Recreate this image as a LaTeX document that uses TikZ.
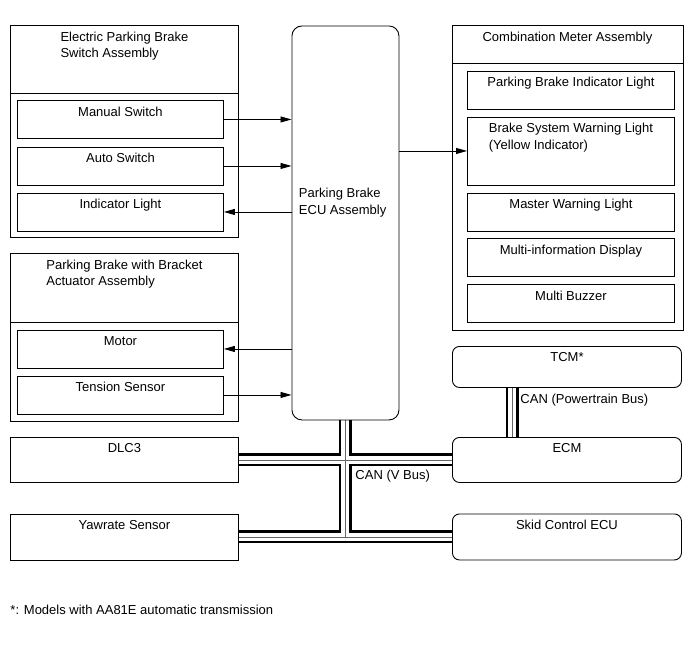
\documentclass[tikz,border=0pt]{standalone}
\usepackage{fontspec}
\setmainfont{Liberation Sans}
\usetikzlibrary{positioning,arrows.meta,backgrounds}

\begin{document}
\begin{tikzpicture}[
  x=1pt, y=-1pt,
  font=\fontsize{13}{16.5}\selectfont,
  >={Triangle[length=11pt,width=6pt]},
  line width=0.9pt,
  box/.style={draw, anchor=north west, inner sep=0pt},
  rbox/.style={box, rounded corners=7pt},
  wh/.style 2 args={minimum width=#1pt, minimum height=#2pt},
  ttl/.style={label={[anchor=north, inner sep=0pt, align=left, yshift=-6.3pt]north:#1}},
  busout/.style={line width=13pt},
  busin/.style={line width=8pt, white},
  busmid/.style={line width=0.6pt, black!60},
]
\useasboundingbox (0,0) rectangle (690,659);
% switch assembly
\node[box, wh={228}{212}, ttl={Electric Parking Brake\\Switch Assembly}] (epb) at (10,25) {};
\node[box, wh={206}{38}, ttl={Manual Switch}]   (mansw) at (17,100) {};
\node[box, wh={206}{38}, ttl={Auto Switch}]     (autosw) at (17,146.5) {};
\node[box, wh={206}{38}, ttl={Indicator Light}] (indl) at (17,192.5) {};
\draw ([yshift=-68pt]epb.north west) -- ([yshift=-68pt]epb.north east);
% actuator
\node[box, wh={228}{167.5}, ttl={Parking Brake with Bracket\\Actuator Assembly}] (act) at (10,253) {};
\node[box, wh={206}{38}, ttl={Motor}]          (motor) at (17,329.5) {};
\node[box, wh={206}{38}, ttl={Tension Sensor}] (tens) at (17,375.5) {};
\draw ([yshift=-69pt]act.north west) -- ([yshift=-69pt]act.north east);
% ecu
\node[box, rounded corners=10pt, wh={107}{394}] (ecu) at (291.5,25.5) {};
\node[anchor=west, align=left, inner sep=0pt] (ecutxt) at (298.5,202.5) {Parking Brake\\ECU Assembly};
% combination meter
\node[box, wh={231}{305}, ttl={Combination Meter Assembly}] (meter) at (451.5,25) {};
\node[box, wh={207}{38}, ttl={Parking Brake Indicator Light}] (pbind) at (467,70.5) {};
\node[box, wh={207}{68}, ttl={Brake System Warning Light\\(Yellow Indicator)}] (bswl) at (467,116.5) {};
\node[box, wh={207}{38}, ttl={Master Warning Light}]      (mwl) at (467,192.5) {};
\node[box, wh={207}{38}, ttl={Multi-information Display}] (mid) at (467,238) {};
\node[box, wh={207}{38}, ttl={Multi Buzzer}]              (buzz) at (467,284) {};
\draw ([yshift=-38pt]meter.north west) -- ([yshift=-38pt]meter.north east);
% can nodes
\node[rbox, wh={229}{41}, ttl={TCM*}]             (tcm) at (452,346) {};
\node[rbox, wh={229}{45}, ttl={ECM}]              (ecm) at (452,437) {};
\node[rbox, wh={229}{46}, ttl={Skid Control ECU}] (skid) at (452,513.5) {};
\node[box, wh={228}{45}, ttl={DLC3}]              (dlc) at (10,437) {};
\node[box, wh={228}{46}, ttl={Yawrate Sensor}]    (yaw) at (10,513.5) {};
% signals
\draw[->] (mansw.east) -- (mansw.east -| ecu.west);
\draw[->] (autosw.east) -- (autosw.east -| ecu.west);
\draw[->] (indl.east -| ecu.west) -- (indl.east);
\draw[->] (motor.east -| ecu.west) -- (motor.east);
\draw[->] (tens.east) -- (tens.east -| ecu.west);
\draw[->] (ecu.east |- bswl.west) -- (bswl.west);
% buses
\coordinate (tcmbus) at ([xshift=-54.5pt]tcm.south);
\begin{scope}[on background layer]
  \foreach \st in {busout,busin,busmid}
    \draw[\st] (ecu.south) -- (ecu.south |- yaw.east)
      (dlc.east) -- (ecm.west)
      (yaw.east) -- (skid.west)
      (tcmbus) -- (tcmbus |- ecm.north);
\end{scope}
\node[anchor=west, inner sep=0pt] (canv) at (355,476.5) {CAN (V Bus)};
\node[anchor=west, inner sep=0pt] (canp) at (520,400) {CAN (Powertrain Bus)};
\node[anchor=west, inner sep=0pt] (note) at (10,610) {*: Models with AA81E automatic transmission};
\end{tikzpicture}
\end{document}
